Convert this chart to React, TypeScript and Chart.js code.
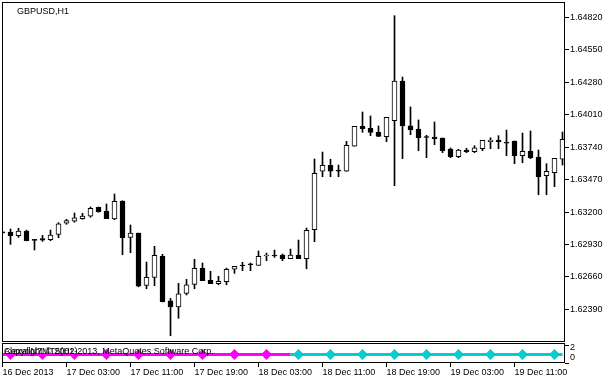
import React, { useEffect, useRef } from "react";
import { Chart, registerables } from "chart.js";

Chart.register(...registerables);

const FONT = "Liberation Sans";

// H1 candles, 16 Dec 2013 19:00 onward
const opens = [
  1.63031, 1.63034, 1.63003, 1.63042, 1.62967, 1.6298, 1.6297, 1.63014, 1.63107, 1.63123,
  1.63145, 1.63165, 1.63239, 1.63206, 1.63142, 1.63292, 1.62989, 1.63025, 1.6259, 1.62657,
  1.62832, 1.62462, 1.6241, 1.62524, 1.62598, 1.62732, 1.62632, 1.62604, 1.6262, 1.62724,
  1.62757, 1.62762, 1.62757, 1.62834, 1.62838, 1.62842, 1.62812, 1.62842, 1.62812, 1.63053,
  1.63539, 1.63589, 1.63541, 1.63539, 1.63747, 1.63913, 1.63897, 1.63863, 1.63827, 1.6396,
  1.6429, 1.63916, 1.63891, 1.63822, 1.63824, 1.63816, 1.63724, 1.6366, 1.63716, 1.63702,
  1.63727, 1.63785, 1.63797, 1.6378, 1.63791, 1.63669, 1.63705, 1.63658, 1.63502, 1.63527,
  1.63639,
];
const highs = [
  1.63038, 1.63059, 1.63065, 1.6305, 1.62973, 1.63006, 1.6305, 1.63112, 1.6314, 1.63192,
  1.63189, 1.63242, 1.63242, 1.63267, 1.6335, 1.63294, 1.63092, 1.63025, 1.62784, 1.62915,
  1.62848, 1.62482, 1.62607, 1.6264, 1.62807, 1.62776, 1.62707, 1.62665, 1.62734, 1.62748,
  1.62782, 1.62776, 1.62876, 1.62859, 1.62884, 1.62851, 1.62892, 1.62967, 1.63067, 1.63641,
  1.63699, 1.63639, 1.63591, 1.63788, 1.63913, 1.64032, 1.63999, 1.63916, 1.63988, 1.64833,
  1.64323, 1.64074, 1.63966, 1.63838, 1.63949, 1.63816, 1.63733, 1.63722, 1.6373, 1.63752,
  1.63797, 1.63818, 1.63835, 1.63882, 1.63791, 1.63857, 1.63874, 1.63716, 1.63602, 1.63647,
  1.63866,
];
const lows = [
  1.63021, 1.62931, 1.62989, 1.6296, 1.62884, 1.62956, 1.62961, 1.62986, 1.63098, 1.63115,
  1.6314, 1.63157, 1.63198, 1.63145, 1.63136, 1.62845, 1.62862, 1.62578, 1.62562, 1.62587,
  1.62452, 1.62171, 1.62316, 1.6251, 1.62562, 1.62629, 1.62604, 1.62595, 1.62595, 1.6269,
  1.62712, 1.62712, 1.62757, 1.62795, 1.62823, 1.62795, 1.62812, 1.62812, 1.62728, 1.62953,
  1.63494, 1.63494, 1.63494, 1.63539, 1.63747, 1.63863, 1.63835, 1.63828, 1.63785, 1.63419,
  1.63644, 1.63843, 1.6371, 1.63652, 1.6376, 1.63694, 1.63652, 1.63652, 1.63694, 1.63694,
  1.6371, 1.63727, 1.63727, 1.63669, 1.63602, 1.6361, 1.63644, 1.63344, 1.63344, 1.63411,
  1.63591,
];
const closes = [
  1.63028, 1.63003, 1.63042, 1.62961, 1.62964, 1.62967, 1.63008, 1.63101, 1.63128, 1.63151,
  1.63167, 1.63231, 1.63203, 1.63145, 1.63289, 1.62986, 1.63025, 1.62584, 1.62657, 1.6284,
  1.62454, 1.6241, 1.6252, 1.62595, 1.62732, 1.62629, 1.62604, 1.62624, 1.62724, 1.62748,
  1.62751, 1.6276, 1.62832, 1.62842, 1.62834, 1.62812, 1.62842, 1.62812, 1.63048, 1.63522,
  1.63589, 1.63539, 1.6354, 1.63755, 1.63913, 1.63893, 1.63863, 1.63828, 1.63988, 1.6429,
  1.63916, 1.63885, 1.63818, 1.6382, 1.6381, 1.6371, 1.6366, 1.63716, 1.63699, 1.63735,
  1.63797, 1.63799, 1.63785, 1.63772, 1.63669, 1.63705, 1.63652, 1.63494, 1.63539, 1.63647,
  1.63805,
];

const priceTicks = [1.6239, 1.6266, 1.6293, 1.632, 1.6347, 1.6374, 1.6401, 1.6428, 1.6455, 1.6482];
const timeTickIndex = [0, 8, 16, 24, 32, 40, 48, 56, 64];
const timeTickLabels = [
  "16 Dec 2013",
  "17 Dec 03:00",
  "17 Dec 11:00",
  "17 Dec 19:00",
  "18 Dec 03:00",
  "18 Dec 11:00",
  "18 Dec 19:00",
  "19 Dec 03:00",
  "19 Dec 11:00",
];

// indicator sub-window (value and trend state per bar)
const indicatorValues = [
  1, 1, 1, 1, 1, 1, 1, 1, 1, 1, 1, 1, 1, 1, 1, 1, 1, 1, 1, 1, 1, 1, 1, 1, 1, 1, 1, 1, 1, 1, 1, 1, 1, 1, 1, 1,
  1, 1, 1, 1, 1, 1, 1, 1, 1, 1, 1, 1, 1, 1, 1, 1, 1, 1, 1, 1, 1, 1, 1, 1, 1, 1, 1, 1, 1, 1, 1, 1, 1, 1, 1,
];
const indicatorTrend = [
  -1, -1, -1, -1, -1, -1, -1, -1, -1, -1, -1, -1, -1, -1, -1, -1, -1, -1, -1, -1, -1, -1, -1, -1, -1, -1, -1,
  -1, -1, -1, -1, -1, -1, -1, -1, -1, 1, 1, 1, 1, 1, 1, 1, 1, 1, 1, 1, 1, 1, 1, 1, 1, 1, 1, 1, 1, 1, 1, 1, 1,
  1, 1, 1, 1, 1, 1, 1, 1, 1, 1, 1,
];
const indicatorTicks = [2, 0];

const symbolTitle = "GBPUSD,H1";
const indicatorName = "AlexallN7MT5(H2)";
const copyrightText = "Copyright © 2001-2013, MetaQuotes Software Corp.";

const MAGENTA = "#FF00FF";
const CYAN = "#00CED1";

const frame = {
  id: "frame",
  afterDraw(chart: any) {
    const { ctx, chartArea } = chart;
    const l = Math.round(chartArea.left);
    const t = Math.round(chartArea.top);
    const r = Math.round(chartArea.right);
    const b = Math.round(chartArea.bottom);
    ctx.save();
    ctx.strokeStyle = "#000";
    ctx.lineWidth = 1;
    ctx.strokeRect(l + 0.5, t + 0.5, r - l - 1, b - t - 1);
    ctx.restore();
  },
};

const noPad = (s: any) => {
  s.paddingTop = 0;
  s.paddingBottom = 0;
  s.paddingLeft = 0;
  s.paddingRight = 0;
};

export default function App() {
  const mainRef = useRef<HTMLCanvasElement>(null);
  const subRef = useRef<HTMLCanvasElement>(null);

  useEffect(() => {
    document.body.style.margin = "0";
    Chart.defaults.font.family = FONT;
    Chart.defaults.font.size = 9;
    Chart.defaults.color = "#000";

    const xMin = -0.0625;
    const xMax = 70.3125;

    const titlePlugin = {
      id: "title1",
      afterDraw(chart: any) {
        const ctx = chart.ctx;
        ctx.save();
        ctx.font = `9px ${FONT}`;
        ctx.fillStyle = "#000";
        ctx.textBaseline = "alphabetic";
        ctx.fillText(symbolTitle, 17, 13.5);
        ctx.restore();
      },
    };

    const main = new Chart(mainRef.current!, {
      type: "bar",
      data: {
        datasets: [
          {
            label: "wick",
            data: highs.map((h, i) => ({ x: i, y: [lows[i], h] })) as any,
            backgroundColor: "#000",
            borderWidth: 0,
            barThickness: 1,
            grouped: false,
            minBarLength: 1,
            order: 2,
          },
          {
            label: "body",
            data: opens.map((o, i) => ({ x: i, y: [o, closes[i]] })) as any,
            backgroundColor: opens.map((o, i) => (closes[i] > o ? "#FFFFFF" : "#000000")),
            borderColor: "#000",
            borderWidth: 1,
            borderSkipped: false,
            barThickness: 5,
            grouped: false,
            minBarLength: 1,
            order: 1,
          },
        ],
      },
      options: {
        animation: false,
        responsive: false,
        maintainAspectRatio: false,
        layout: { padding: { left: 2, top: 2, right: 0, bottom: 0 } },
        plugins: { legend: { display: false }, tooltip: { enabled: false } },
        scales: {
          x: { type: "linear", min: xMin, max: xMax, offset: false, display: false },
          y: {
            position: "right",
            min: 1.62119,
            max: 1.64947,
            afterBuildTicks: (s: any) => {
              s.ticks = priceTicks.map((v) => ({ value: v }));
            },
            afterFit: (s: any) => {
              s.width = 49;
              noPad(s);
            },
            grid: { drawOnChartArea: false, drawTicks: true, tickLength: 4, color: "#000" },
            border: { display: false },
            ticks: {
              color: "#000",
              font: { family: FONT, size: 9 },
              padding: 1,
              callback: (v: any) => Number(v).toFixed(5),
            },
          },
        },
      },
      plugins: [frame, titlePlugin],
    });

    const labelPlugin = {
      id: "subLabel",
      afterDatasetsDraw(chart: any) {
        const ctx = chart.ctx;
        ctx.save();
        ctx.fillStyle = "#FFFFFF";
        ctx.fillRect(3, 2, 90, 9);
        ctx.font = `9px ${FONT}`;
        ctx.fillStyle = "#000";
        ctx.textBaseline = "alphabetic";
        ctx.fillText(indicatorName, 4, 11.5);
        ctx.fillText(copyrightText, 4, 11.5);
        ctx.restore();
      },
    };

    const sub = new Chart(subRef.current!, {
      type: "line",
      data: {
        datasets: [
          {
            label: "ind",
            data: indicatorValues.map((v, i) => ({ x: i, y: v })) as any,
            yAxisID: "yA",
            borderWidth: 3,
            borderColor: MAGENTA,
            segment: {
              borderColor: (c: any) => (indicatorTrend[c.p0DataIndex] > 0 ? CYAN : MAGENTA),
            },
            pointStyle: "rectRot",
            pointRadius: (c: any) => (c.dataIndex % 4 === 1 ? 5.5 : 0),
            pointHoverRadius: 0,
            pointBorderWidth: 0,
            pointBackgroundColor: (c: any) => (indicatorTrend[c.dataIndex] > 0 ? CYAN : MAGENTA),
            tension: 0,
            clip: false as any,
          },
        ],
      },
      options: {
        animation: false,
        responsive: false,
        maintainAspectRatio: false,
        layout: { padding: { left: 2, top: 1, right: 0, bottom: 0 } },
        plugins: { legend: { display: false }, tooltip: { enabled: false } },
        scales: {
          x: {
            type: "linear",
            min: xMin,
            max: xMax,
            offset: false,
            position: "bottom",
            afterBuildTicks: (s: any) => {
              s.ticks = timeTickIndex.map((v) => ({ value: v }));
            },
            afterFit: (s: any) => {
              s.height = 17;
              noPad(s);
            },
            grid: { drawOnChartArea: false, drawTicks: true, tickLength: 4, color: "#000" },
            border: { display: false },
            ticks: {
              align: "start",
              autoSkip: false,
              maxRotation: 0,
              padding: 0,
              color: "#000",
              font: { family: FONT, size: 9 },
              callback: (v: any) => timeTickLabels[timeTickIndex.indexOf(Number(v))] ?? "",
            },
          },
          yA: {
            position: "right",
            min: 0,
            max: 2.35,
            afterBuildTicks: (s: any) => {
              s.ticks = indicatorTicks.map((v) => ({ value: v }));
            },
            afterFit: (s: any) => {
              s.width = 4;
              noPad(s);
            },
            grid: { drawOnChartArea: false, drawTicks: true, tickLength: 4, color: "#000" },
            border: { display: false },
            ticks: { display: false },
          },
          yB: {
            position: "right",
            min: -1,
            max: 3,
            afterBuildTicks: (s: any) => {
              s.ticks = indicatorTicks.map((v) => ({ value: v }));
            },
            afterFit: (s: any) => {
              s.width = 45;
              noPad(s);
            },
            grid: { display: false, drawTicks: false },
            border: { display: false },
            ticks: {
              padding: 1,
              color: "#000",
              font: { family: FONT, size: 9 },
              callback: (v: any) => String(v),
            },
          },
        },
      },
      plugins: [frame, labelPlugin],
    });

    return () => {
      main.destroy();
      sub.destroy();
    };
  }, []);

  return (
    <div style={{ position: "relative", width: 614, height: 380, background: "#fff" }}>
      <canvas ref={mainRef} width={614} height={342} style={{ position: "absolute", left: 0, top: 0 }} />
      <canvas ref={subRef} width={614} height={38} style={{ position: "absolute", left: 0, top: 342 }} />
    </div>
  );
}
